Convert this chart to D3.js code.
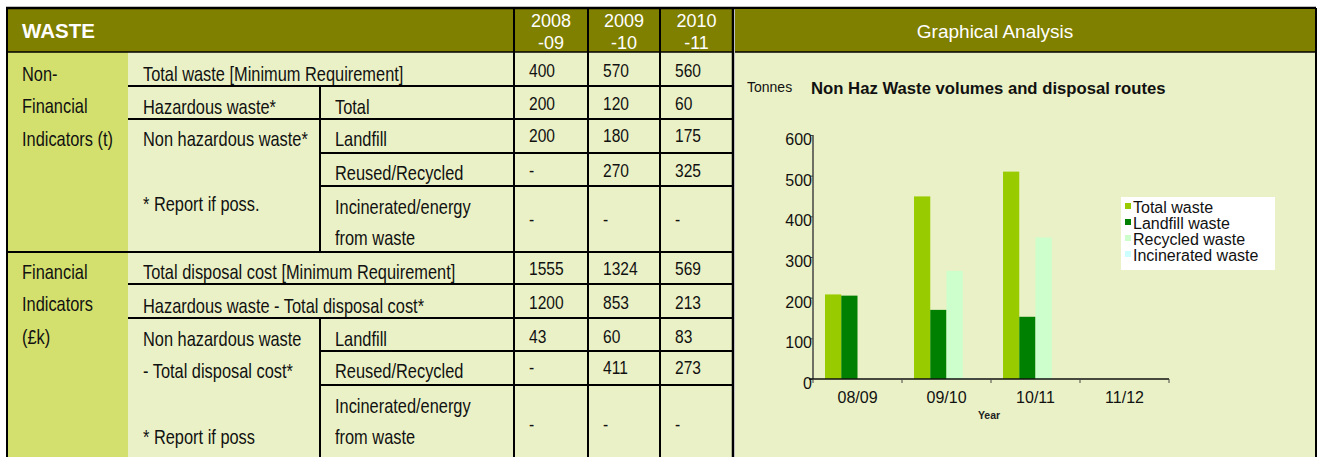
<!DOCTYPE html>
<html lang="en">
<head>
<meta charset="utf-8">
<title>Waste</title>
<script src="https://d3js.org/d3.v7.min.js"></script>
<style>
  body { margin: 0; background: #fff; }
  .narrow { font-family: "Liberation Sans Narrow", "Arial Narrow", "Liberation Sans", sans-serif; fill: #111; }
  .arial { font-family: "Liberation Sans", Arial, sans-serif; }
</style>
</head>
<body>
<script>
// ---- data ----
var yearHeads = [["2008", "-09"], ["2009", "-10"], ["2010", "-11"]];
var tonnesValues = [["400", "570", "560"], ["200", "120", "60"], ["200", "180", "175"], ["-", "270", "325"], ["-", "-", "-"]];
var costValues = [["1555", "1324", "569"], ["1200", "853", "213"], ["43", "60", "83"], ["-", "411", "273"], ["-", "-", "-"]];
var groupLabels = [["Non-", "Financial", "Indicators (t)"], ["Financial", "Indicators", "(\u00a3k)"]];
var topLabels = [["Total waste [Minimum Requirement]", "Hazardous waste*"],
                 ["Total disposal cost [Minimum Requirement]", "Hazardous waste - Total disposal cost*"]];
var nonHazLabels = [["Non hazardous waste*", "* Report if poss."], ["Non hazardous waste", "- Total disposal cost*", "* Report if poss"]];
var routeLabels = [["Landfill"], ["Reused/Recycled"], ["Incinerated/energy", "from waste"]];

var chartYears = ["08/09", "09/10", "10/11", "11/12"];
var seriesNames = ["Total waste", "Landfill waste", "Recycled waste", "Incinerated waste"];
var totalWaste = [208, 449, 510, 0];
var landfillWaste = [205, 170, 153, 0];
var recycledWaste = [0, 266, 348, 0];
var incineratedWaste = [0, 2, 0, 0];
var yTicks = [0, 100, 200, 300, 400, 500, 600];

var olive = "#7f7f00", lime = "#d4e06e", pale = "#ebf1c6";
var seriesColors = ["#99cc00", "#008000", "#ccffcc", "#ccffff"];

var W = 1318, H = 457;
var svg = d3.select("body").append("svg").attr("width", W).attr("height", H);

// ---- table geometry ----
var cx = [6, 128, 320, 514, 588, 660, 733];
var top0 = 8, headB = 52;
var secRows = [[52, 86, 119, 153, 186, 252], [252, 284, 318, 351, 385, 457]];

// backgrounds
svg.append("rect").attr("x", cx[0]).attr("y", top0).attr("width", cx[6] - cx[0]).attr("height", headB - top0).attr("fill", olive);
svg.append("rect").attr("x", cx[0]).attr("y", headB).attr("width", cx[1] - cx[0]).attr("height", H - headB).attr("fill", lime);
svg.append("rect").attr("x", cx[1]).attr("y", headB).attr("width", cx[6] - cx[1]).attr("height", H - headB).attr("fill", pale);

// header texts
svg.append("text").attr("class", "arial").attr("x", 22).attr("y", 38)
  .attr("fill", "#fff").style("font-size", "20.5px").style("font-weight", "bold").text("WASTE");
yearHeads.forEach(function(h, i) {
  var mid = (cx[3 + i] + cx[4 + i]) / 2;
  h.forEach(function(t, j) {
    svg.append("text").attr("class", "arial").attr("x", mid).attr("y", 26.5 + j * 22)
      .attr("text-anchor", "middle").attr("fill", "#fff").style("font-size", "18px").text(t);
  });
});

function line(x1, y1, x2, y2, w) {
  svg.append("line").attr("x1", x1).attr("y1", y1).attr("x2", x2).attr("y2", y2)
    .attr("stroke", "#000").attr("stroke-width", w || 2);
}
// condensed text: no narrow face installed, so squeeze a regular face
function label(x, y, t, size) {
  svg.append("text").attr("class", "narrow")
    .attr("transform", "translate(" + x + "," + y + ") scale(0.82,1)")
    .style("font-size", (size || 20) + "px").text(t);
}

var labelOff = [[29, 28, 27, 27, 25], [27, 29, 28, 27, 59]];
var valueOff = [[25, 24, 23, 24, 40], [23, 25, 25, 23, 46]];

[0, 1].forEach(function(s) {
  var r = secRows[s];
  var lo = labelOff[s];
  var vals = s === 0 ? tonnesValues : costValues;
  // group label (first column)
  groupLabels[s].forEach(function(t, j) { label(22, r[0] + lo[0] + j * 32.3, t); });
  // rows 1-2 labels
  topLabels[s].forEach(function(t, j) { label(143, r[j] + lo[j], t); });
  if (s === 0) label(335, r[1] + lo[1], "Total");
  // non hazardous block
  if (s === 0) {
    label(143, r[2] + lo[2], nonHazLabels[0][0]);
    label(143, r[4] + 25, nonHazLabels[0][1]);
  } else {
    label(143, r[2] + lo[2], nonHazLabels[1][0]);
    label(143, r[3] + lo[3], nonHazLabels[1][1]);
    label(143, r[4] + 59, nonHazLabels[1][2]);
  }
  // routes
  label(335, r[2] + lo[2], routeLabels[0][0]);
  label(335, r[3] + lo[3], routeLabels[1][0]);
  label(335, r[4] + 28, routeLabels[2][0]);
  label(335, r[4] + 59, routeLabels[2][1]);
  // values
  vals.forEach(function(row, i) {
    row.forEach(function(v, k) { label(cx[3 + k] + 15, r[i] + valueOff[s][i], v, 19); });
  });
  // grid lines
  line(cx[1], r[1], cx[6], r[1]);
  line(cx[1], r[2], cx[6], r[2]);
  line(cx[2], r[3], cx[6], r[3]);
  line(cx[2], r[4], cx[6], r[4]);
  line(cx[2], s === 0 ? r[1] : r[2], cx[2], r[5]);
});
line(cx[0], secRows[1][0], cx[6], secRows[1][0]);
line(cx[0], headB, cx[6], headB, 1.5);
[3, 4, 5].forEach(function(i) { line(cx[i], top0, cx[i], H); });
line(cx[0], top0, 1316, top0, 2.5);
line(cx[0] + 1, top0, cx[0] + 1, H, 2);
line(cx[6], top0, cx[6], H, 2.5);

// ---- chart panel ----
var px0 = 735, px1 = 1316;
svg.append("rect").attr("x", px0).attr("y", top0 + 1).attr("width", px1 - px0).attr("height", headB - top0 - 1).attr("fill", olive);
svg.append("rect").attr("x", px0).attr("y", headB).attr("width", px1 - px0).attr("height", H - headB).attr("fill", pale);
line(px0, headB, px1, headB, 1.5);
line(px1, top0, px1, H, 2);
svg.append("text").attr("class", "arial").attr("x", 995).attr("y", 38).attr("text-anchor", "middle")
  .attr("fill", "#fff").style("font-size", "19px").text("Graphical Analysis");
svg.append("text").attr("class", "arial").attr("x", 747).attr("y", 92)
  .attr("fill", "#111").style("font-size", "14px").text("Tonnes");
svg.append("text").attr("class", "arial").attr("x", 811).attr("y", 94)
  .attr("fill", "#111").style("font-size", "16.7px").style("font-weight", "bold").text("Non Haz Waste volumes and disposal routes");

var plot = {left: 813, right: 1169, top: 135, bottom: 379};
var x0 = d3.scaleBand().domain(chartYears).range([plot.left, plot.right]).paddingInner(0.27).paddingOuter(0.135);
var x1 = d3.scaleBand().domain(seriesNames).range([0, x0.bandwidth()]);
var y = d3.scaleLinear().domain([0, 600]).range([plot.bottom, plot.top]);
var seriesData = [totalWaste, landfillWaste, recycledWaste, incineratedWaste];

var bars = [];
seriesData.forEach(function(vals, si) {
  vals.forEach(function(v, ci) { if (v > 0) bars.push({s: si, c: ci, v: v}); });
});
svg.selectAll(".bar").data(bars).enter().append("rect")
  .attr("class", "bar")
  .attr("x", function(d) { return x0(chartYears[d.c]) + x1(seriesNames[d.s]); })
  .attr("y", function(d) { return y(d.v); })
  .attr("width", x1.bandwidth())
  .attr("height", function(d) { return plot.bottom - y(d.v); })
  .attr("fill", function(d) { return seriesColors[d.s]; });

// y axis
var yAxis = svg.append("g").attr("transform", "translate(" + plot.left + ",0)")
  .call(d3.axisLeft(y).tickValues(yTicks).tickSize(3).tickPadding(-2));
yAxis.select(".domain").attr("stroke", "#444").attr("stroke-width", 1.5).attr("d", "M0," + plot.top + "V" + plot.bottom);
yAxis.selectAll(".tick line").attr("stroke", "#444");
yAxis.selectAll("text").attr("class", "arial").attr("fill", "#111").style("font-size", "16px").attr("dy", "0.6em");

// x axis
var xAxis = svg.append("g").attr("transform", "translate(0," + plot.bottom + ")")
  .call(d3.axisBottom(x0).tickSize(0).tickPadding(13));
xAxis.select(".domain").attr("stroke", "#111").attr("stroke-width", 1.5).attr("d", "M" + (plot.left - 4) + ",0H" + plot.right);
xAxis.selectAll("text").attr("class", "arial").attr("fill", "#111").style("font-size", "16px");
var bounds = chartYears.map(function(c) { return x0(c) - x0.step() * x0.paddingOuter(); });
bounds.push(plot.right);
xAxis.selectAll(".bound").data(bounds).enter().append("line").attr("class", "bound")
  .attr("x1", function(d) { return d; }).attr("x2", function(d) { return d; })
  .attr("y1", 0).attr("y2", 4).attr("stroke", "#444");
svg.append("text").attr("class", "arial").attr("x", 989).attr("y", 419).attr("text-anchor", "middle")
  .attr("fill", "#222").style("font-size", "10.5px").style("font-weight", "bold").text("Year");

// legend
var lg = svg.append("g").attr("transform", "translate(1121,197)");
lg.append("rect").attr("width", 154).attr("height", 73).attr("fill", "#fff");
seriesNames.forEach(function(n, i) {
  lg.append("rect").attr("x", 4).attr("y", 6 + i * 16).attr("width", 6).attr("height", 6).attr("fill", seriesColors[i]);
  lg.append("text").attr("class", "arial").attr("x", 12).attr("y", 16 + i * 16)
    .attr("fill", "#111").style("font-size", "16px").text(n);
});
</script>
</body>
</html>
